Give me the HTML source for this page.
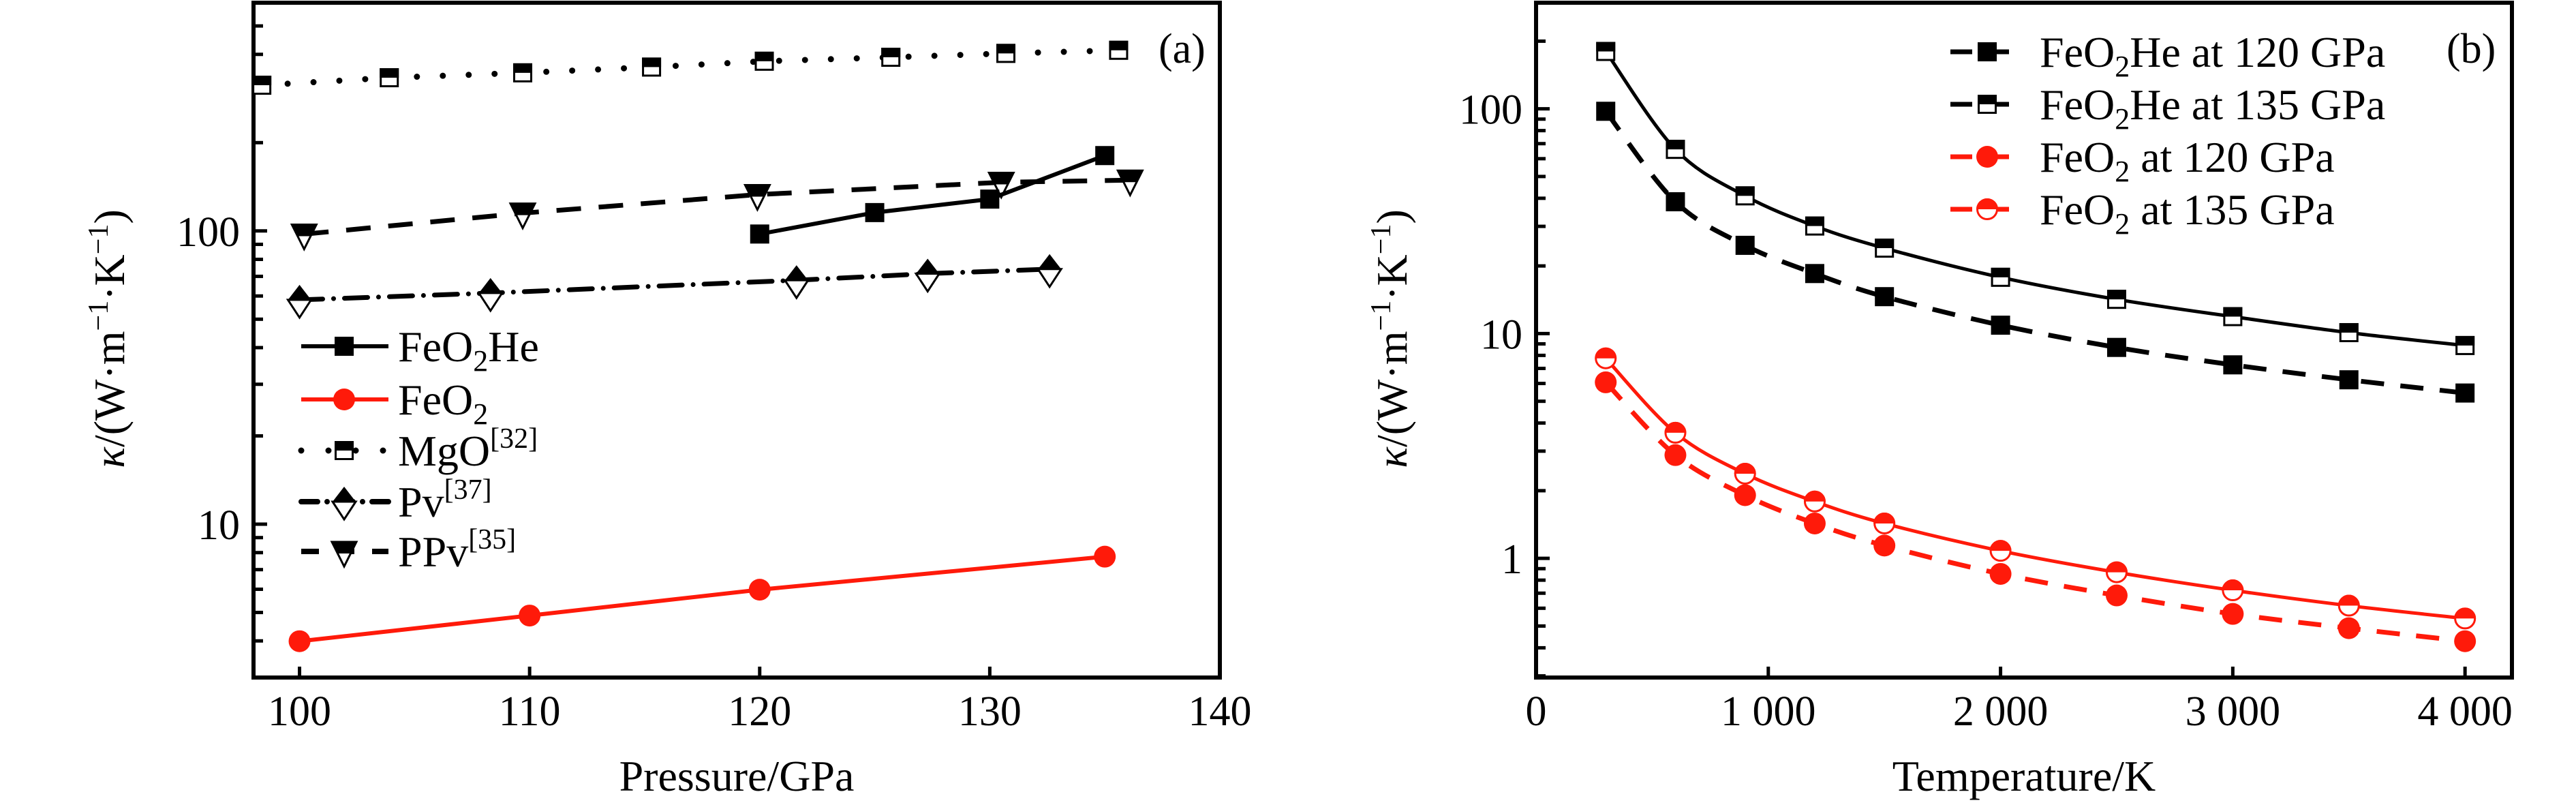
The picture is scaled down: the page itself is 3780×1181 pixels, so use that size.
<!DOCTYPE html>
<html><head><meta charset="utf-8">
<style>
html,body{margin:0;padding:0;background:#fff;}
svg{display:block;font-family:"Liberation Serif",serif;}
</style></head>
<body>
<svg id="fig" width="3780" height="1181" viewBox="0 0 3780 1181" xmlns="http://www.w3.org/2000/svg"></svg>
<script>
// ---------- Panel (a) data ----------
const aFeO2HeP = [120,125,130,135];
const aFeO2HeK = [97.6,115.5,128.4,180.7];
const aFeO2P = [100,110,120,135];
const aFeO2K = [3.99,4.88,5.98,7.75];
const aMgOP = [98.36,103.9,109.7,115.3,120.2,125.7,130.7,135.6];
const aMgOK = [314,333,346,362,379,391,403,413];
const aPvP = [100,108.3,121.6,127.3,132.6];
const aPvK = [58.2,61.4,67.9,71.5,74.1];
const aPPvP = [100.2,109.7,119.9,130.5,136.1];
const aPPvK = [97.5,115,133,146.5,149];
const aXTicks = [100,110,120,130,140];
const aYTicks = [10,100];
// ---------- Panel (b) data ----------
const bT = [300,600,900,1200,1500,2000,2500,3000,3500,4000];
const bHe120 = [97.5,38.6,24.7,18.5,14.6,10.9,8.68,7.26,6.23,5.44];
const bHe135 = [180,66,41,30.1,24,17.8,14.2,11.9,10.1,8.85];
const bFe120 = [6.07,2.88,1.91,1.43,1.14,0.853,0.684,0.566,0.489,0.428];
const bFe135 = [7.76,3.62,2.38,1.79,1.43,1.08,0.867,0.721,0.616,0.540];
const bXTicks = [0,1000,2000,3000,4000];
const bXLabels = ["0","1 000","2 000","3 000","4 000"];
const bYTicks = [1,10,100];

const NS = "http://www.w3.org/2000/svg";
const svg = document.getElementById('fig');
function mk(tag, attrs, parent){
  const e = document.createElementNS(NS, tag);
  for (const k in attrs) e.setAttribute(k, attrs[k]);
  (parent||svg).appendChild(e);
  return e;
}
function linX(x0,x1,p0,p1){return v=>p0+(v-x0)/(x1-x0)*(p1-p0);}
function logY(y0,y1,p0,p1){return v=>p0+(Math.log10(v)-Math.log10(y0))/(Math.log10(y1)-Math.log10(y0))*(p1-p0);}

function smoothPath(pts){
  let d = `M${pts[0][0]},${pts[0][1]}`;
  for(let i=0;i<pts.length-1;i++){
    const p0=pts[i-1]||pts[i], p1=pts[i], p2=pts[i+1], p3=pts[i+2]||p2;
    const c1=[p1[0]+(p2[0]-p0[0])/6, p1[1]+(p2[1]-p0[1])/6];
    const c2=[p2[0]-(p3[0]-p1[0])/6, p2[1]-(p3[1]-p1[1])/6];
    d+=` C${c1[0]},${c1[1]} ${c2[0]},${c2[1]} ${p2[0]},${p2[1]}`;
  }
  return d;
}
function polyPath(pts){return 'M'+pts.map(p=>p.join(',')).join(' L');}

function marker(type, cx, cy, color, g){
  const s=28, r=16;
  if(type==='sq'){ mk('rect',{x:cx-s/2,y:cy-s/2,width:s,height:s,fill:'#000'},g); }
  else if(type==='sqhalf'){
    mk('rect',{x:cx-s/2+1.5,y:cy-s/2+1.5,width:s-3,height:s-3,fill:'#fff',stroke:'#000','stroke-width':3},g);
    mk('rect',{x:cx-s/2,y:cy-s/2,width:s,height:s/2,fill:'#000'},g);
  }
  else if(type==='circ'){ mk('ellipse',{cx:cx,cy:cy,rx:r,ry:r,fill:color},g); }
  else if(type==='circhalf'){
    mk('circle',{cx:cx,cy:cy,r:r-1.5,fill:'#fff',stroke:color,'stroke-width':3},g);
    mk('path',{d:`M${cx-r},${cy} A${r},${r} 0 0 1 ${cx+r},${cy} Z`,fill:color},g);
  }
  else if(type==='diam'){
    mk('path',{d:`M${cx-17},${cy} L${cx},${cy+26} L${cx+17},${cy} Z`,fill:'#fff',stroke:'#000','stroke-width':3},g);
    mk('path',{d:`M${cx-17},${cy} L${cx},${cy-22} L${cx+17},${cy} Z`,fill:'#000'},g);
  }
  else if(type==='tri'){
    mk('path',{d:`M${cx-18},${cy-14} L${cx+18},${cy-14} L${cx},${cy+22} Z`,fill:'#fff',stroke:'#000','stroke-width':3},g);
    mk('path',{d:`M${cx-18},${cy-14} L${cx+18},${cy-14} L${cx+8.5},${cy+3} L${cx-8.5},${cy+3} Z`,fill:'#000'},g);
  }
}

function drawSeries(name, xs, ys, X, Y, opts, parent){
  const g = mk('g',{},parent);
  
  
  const pts = xs.map((x,i)=>[X(x),Y(ys[i])]);
  const line = mk('path',{d: opts.smooth?smoothPath(pts):polyPath(pts), fill:'none', stroke:opts.color, 'stroke-width':opts.w||6, 'stroke-dasharray':opts.dash||'none','stroke-linecap':opts.cap||'butt'},g);
  
  
  pts.forEach(p=>marker(opts.m,p[0],p[1],opts.color,g));
  return g;
}

function legendEntry(parent, y, x0, x1, mx, tx, opts, label, sub, rest, sup){
  const g = mk('g',{},parent);
  
  
  mk('line',{x1:x0,y1:y,x2:x1,y2:y,stroke:opts.color,'stroke-width':opts.w||7,'stroke-dasharray':opts.dash||'none','stroke-linecap':opts.cap||'butt'},g);
  marker(opts.m,mx,y,opts.color,g);
  const t = mk('text',{x:tx,y:y+22,'font-size':64,fill:'#000'},g);
  t.appendChild(document.createTextNode(label));
  if(sub){const s=mk('tspan',{dy:14,'font-size':44},t); s.textContent=sub;
    const r=mk('tspan',{dy:-14},t); r.textContent=rest||'';}
  if(sup){const s2=mk('tspan',{dy:-26,'font-size':42},t); s2.textContent=sup;}
}

function axes(name, L,R,TT,B, X, Y, xticks, xlabels, yticks, yMin, yMax, xtitle){
  const g = mk('g',{},svg);
  
  
  mk('rect',{x:L,y:TT,width:R-L,height:B-TT,fill:'none',stroke:'#000','stroke-width':6},g);
  xticks.forEach((v,i)=>{
    const x=X(v);
    mk('line',{x1:x,y1:B,x2:x,y2:B-16,stroke:'#000','stroke-width':5},g);
    const t=mk('text',{x:x,y:1064,'font-size':62,'text-anchor':'middle'},g);
    t.textContent=xlabels[i];
  });
  for(let d=Math.floor(Math.log10(yMin)); d<=Math.ceil(Math.log10(yMax)); d++){
    for(let m=1;m<10;m++){
      const v=m*Math.pow(10,d);
      if(v<yMin||v>yMax) continue;
      const y=Y(v);
      mk('line',{x1:L,y1:y,x2:L+(m===1?20:14),y2:y,stroke:'#000','stroke-width':5},g);
    }
  }
  yticks.forEach(v=>{
    const t=mk('text',{x:L-20,y:Y(v)+22,'font-size':62,'text-anchor':'end'},g);
    t.textContent=String(v);
  });
  const xt=mk('text',{x:(L+R)/2,y:1160,'font-size':64,'text-anchor':'middle'},g);
  xt.textContent=xtitle;
  
  
  const yt=mk('text',{x:0,y:0,'font-size':64,'text-anchor':'middle',transform:`translate(${L-190},497) rotate(-90)`},g);
  
  
  const k=mk('tspan',{'font-style':'italic'},yt); k.textContent='κ';
  const r1=mk('tspan',{},yt); r1.textContent='/(W·m';
  const s1=mk('tspan',{dy:-24,'font-size':42},yt); s1.textContent='−1';
  const r2=mk('tspan',{dy:24},yt); r2.textContent='·K';
  const s2=mk('tspan',{dy:-24,'font-size':42},yt); s2.textContent='−1';
  const r3=mk('tspan',{dy:24},yt); r3.textContent=')';
  return g;
}

// ---------- Panel (a) ----------
const aL=372,aR=1790,aTop=4,aB=994;
const aX=linX(98,140,aL,aR), aY=logY(3,600,aB,aTop);
axes('panel-a-axes',aL,aR,aTop,aB,aX,aY,aXTicks,aXTicks.map(String),aYTicks,3,600,'Pressure/GPa');
const aPlot = mk('g',{});


const stMgO={color:'#000',m:'sqhalf',dash:'0 38',cap:'round',w:9};
const stPv={color:'#000',m:'diam',dash:'34 16 0 16',cap:'round',w:7};
const stPPv={color:'#000',m:'tri',dash:'36 26',w:7};
const stHe={color:'#000',m:'sq',w:6};
const stFe={color:'#ff1a0a',m:'circ',w:6};
drawSeries('series-mgo',aMgOP,aMgOK,aX,aY,stMgO,aPlot);
drawSeries('series-pv',aPvP,aPvK,aX,aY,stPv,aPlot);
drawSeries('series-ppv',aPPvP,aPPvK,aX,aY,stPPv,aPlot);
drawSeries('series-feo2he',aFeO2HeP,aFeO2HeK,aX,aY,stHe,aPlot);
drawSeries('series-feo2',aFeO2P,aFeO2K,aX,aY,stFe,aPlot);
const aLeg = mk('g',{});


legendEntry(aLeg,508,442,570,505,584,stHe,'FeO','2','He');
legendEntry(aLeg,586,442,570,505,584,stFe,'FeO','2','');
legendEntry(aLeg,661,442,570,505,584,{color:'#000',m:'sqhalf',dash:'0 40',cap:'round',w:9},'MgO',null,null,'[32]');
legendEntry(aLeg,736,442,570,505,584,{color:'#000',m:'diam',dash:'24 14 0 14',cap:'round',w:8},'Pv',null,null,'[37]');
legendEntry(aLeg,809,442,570,505,584,{color:'#000',m:'tri',dash:'26 26',w:8},'PPv',null,null,'[35]');
const la=mk('text',{x:1700,y:92,'font-size':62});
la.textContent='(a)';



// ---------- Panel (b) ----------
const bLeft=2254,bRight=3686,bTop=4,bBottom=994;
const bX=linX(0,4202,bLeft,bRight), bY=logY(0.295,296.5,bBottom,bTop);
axes('panel-b-axes',bLeft,bRight,bTop,bBottom,bX,bY,bXTicks,bXLabels,bYTicks,0.295,296.5,'Temperature/K');
const bPlot = mk('g',{});


const st120He={color:'#000',m:'sq',dash:'34 24',w:7,smooth:true};
const st135He={color:'#000',m:'sqhalf',w:5,smooth:true};
const st120Fe={color:'#ff1a0a',m:'circ',dash:'34 24',w:7,smooth:true};
const st135Fe={color:'#ff1a0a',m:'circhalf',w:5,smooth:true};
drawSeries('series-feo2he-120',bT,bHe120,bX,bY,st120He,bPlot);
drawSeries('series-feo2he-135',bT,bHe135,bX,bY,st135He,bPlot);
drawSeries('series-feo2-120',bT,bFe120,bX,bY,st120Fe,bPlot);
drawSeries('series-feo2-135',bT,bFe135,bX,bY,st135Fe,bPlot);
const bLeg = mk('g',{});


legendEntry(bLeg,76,2862,2966,2916,2993,{color:'#000',m:'sq',dash:'32 22',w:7},'FeO','2','He at 120 GPa');
legendEntry(bLeg,153,2862,2966,2916,2993,{color:'#000',m:'sqhalf',dash:'32 22',w:7},'FeO','2','He at 135 GPa');
legendEntry(bLeg,230,2862,2966,2916,2993,{color:'#ff1a0a',m:'circ',dash:'32 22',w:7},'FeO','2',' at 120 GPa');
legendEntry(bLeg,307,2862,2966,2916,2993,{color:'#ff1a0a',m:'circhalf',dash:'32 22',w:7},'FeO','2',' at 135 GPa');
const lb=mk('text',{x:3590,y:92,'font-size':62});
lb.textContent='(b)';


</script>
</body></html>
